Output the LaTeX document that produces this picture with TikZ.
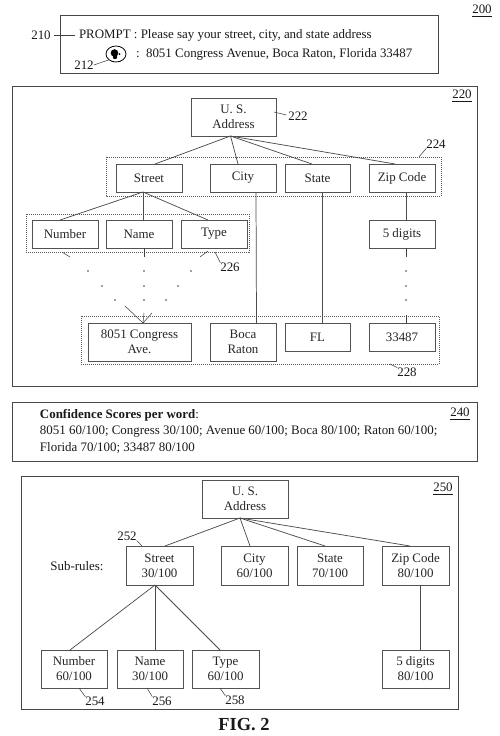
\documentclass[tikz,border=0pt]{standalone}
\usepackage{fontspec}
\setmainfont{Liberation Serif}
\usetikzlibrary{calc,shapes.geometric}
\newcommand{\bx}[6]{\node[tbox,minimum width=#4*0.75pt,minimum height=#5*0.75pt,anchor=north west] (#1) at (#2,#3) {#6};}
\begin{document}
\begin{tikzpicture}[x=0.75pt,y=-0.75pt,
  font=\fontsize{9.7pt}{11.2pt}\selectfont,
  panel/.style={draw=black!72,line width=0.75pt},
  groupbox/.style={draw=black!65,line width=0.55pt,dash pattern=on 0.75pt off 0.75pt},
  tbox/.style={draw=black!68,line width=0.7pt,align=center,inner sep=0pt,outer sep=0pt,text=black!85},
  lbl/.style={inner sep=0pt,outer sep=0pt,text=black!90},
  wire/.style={draw=black!70,line width=0.55pt},
  reftick/.style={draw=black!75,line width=0.4pt},
  dotmark/.style={circle,fill=black!75,inner sep=0pt,minimum size=1.2pt}]
\useasboundingbox (0,0) rectangle (500,736);
\fill[white] (0,0) rectangle (500,736);
% ---- prompt panel
\draw[panel] (60,15) rectangle (438,73);
\node[lbl] (n200) at (482,11) {\underline{200}};
\node[lbl] (n210) at (41,35) {210};
\node[lbl,anchor=west] (prompt) at (79,35) {PROMPT : Please say your street, city, and state address};
\node[lbl,anchor=west] (resp) at (136,54) {:\ \ 8051 Congress Avenue, Boca Raton, Florida 33487};
\node[draw=black,line width=0.6pt,ellipse,minimum width=15pt,minimum height=12pt,inner sep=0pt] (icon) at (116,54) {};
\fill[black] (114.5,53) circle[radius=3.8];
\fill[black] (115,57) circle[radius=2.2];
\fill[black] (119.5,54) circle[radius=1];
\node[lbl] (n212) at (84,65) {212};
\draw[reftick] ($(n210.east)+(3,0)$) -- ($(prompt.west)+(-4,0)$);
\draw[reftick] (n212.east) -- (icon.south west);
% ---- panel 220
\draw[panel] (12,86) rectangle (477,386);
\node[lbl] (n220) at (462,96) {\underline{220}};
\draw[groupbox] (106,157) rectangle (441,196);
\draw[groupbox] (26,214) rectangle (249,252);
\draw[groupbox] (81,316) rectangle (439,364);
\bx{us}{191}{98}{85}{38}{U. S.\\Address}
\bx{street}{116}{164}{66}{28}{Street}
\bx{city}{210}{164}{66}{28}{City}
\bx{state}{285}{164}{65}{28}{State}
\bx{zip}{369}{164}{66}{28}{Zip Code}
\bx{number}{32}{220}{66}{28}{Number}
\bx{name}{106}{220}{66}{28}{Name}
\bx{type}{181}{220}{66}{28}{Type}
\bx{digits}{369}{220}{66}{28}{5 digits}
\bx{congress}{88}{323}{103}{38}{8051 Congress\\Ave.}
\bx{boca}{210}{323}{66}{38}{Boca\\Raton}
\bx{fl}{285}{323}{65}{28}{FL}
\bx{zipv}{369}{323}{66}{28}{33487}
\coordinate (usb) at ($(us.south)+(-3,0)$);
\draw[wire] (usb) -- ($(street.north)+(6,0)$);
\draw[wire] (usb) -- ($(city.north)+(-5,0)$);
\draw[wire] (usb) -- ($(state.north)+(-5.5,0)$);
\draw[wire] (usb) -- ($(zip.north)+(-7,0)$);
\coordinate (stb) at ($(street.south)+(-6,0)$);
\draw[wire] (stb) -- ($(number.north)+(-5,0)$);
\draw[wire] (stb) -- ($(name.north)+(4,0)$);
\draw[wire] (stb) -- ($(type.north)+(-6,0)$);
\draw[wire] ($(city.south)+(13,0)$) -- ($(boca.north)+(13.5,0)$);
\draw[wire] ($(state.south)+(4.5,0)$) -- ($(fl.north)+(4.5,0)$);
\draw[wire] ($(zip.south)+(4,0)$) -- ($(digits.north)+(4,0)$);
% elided paths
\coordinate (s1) at (70,257); \coordinate (s2) at (144,257); \coordinate (s3) at (200,257); \coordinate (s4) at (406,257);
\draw[reftick] ($(number.south)+(-3,4)$) -- (s1);
\draw[reftick] ($(name.south)+(5,0)$) -- (s2);
\draw[reftick] ($(type.south)+(-6,3)$) -- (s3);
\draw[reftick] ($(digits.south)+(4,0)$) -- (s4);
\foreach \px/\py in {88/271,144/271,191/271,102/286,144/286,178/286,115/300,144/300,166/300,406/271,406/286,406/300}
  \node[dotmark] at (\px,\py) {};
\coordinate (e1) at (125,306); \coordinate (e2) at (144,313); \coordinate (e3) at (152,313); \coordinate (e4) at (406,315);
\coordinate (capex) at ($(congress.north)+(3.5,0)$);
\draw[reftick] (e1) -- (capex);
\draw[reftick] (e2) -- (capex);
\draw[reftick] (e3) -- (capex);
\draw[reftick] (e4) -- ($(zipv.north)+(4,0)$);
\node[lbl] (n222) at (298,116) {222};
\node[lbl] (n224) at (436,144) {224};
\node[lbl] (n226) at (230,267) {226};
\node[lbl] (n228) at (407,372) {228};
\coordinate (g224) at (419,157); \coordinate (g226) at (215,252); \coordinate (g228) at (390,364);
\draw[reftick] (274,112) -- ($(n222.west)+(-2,-1)$);
\draw[reftick] (g224) -- (n224.south west);
\draw[reftick] (g226) -- (n226.north west);
\draw[reftick] (g228) -- (n228.north west);
% ---- panel 240
\draw[panel] (12,402) rectangle (477,461);
\node[lbl] (n240) at (460,414) {\underline{240}};
\node[lbl,anchor=west] (conf1) at (40,415) {\textbf{Confidence Scores per word}:};
\node[lbl,anchor=west] (conf2) at (40,432) {8051 60/100; Congress 30/100; Avenue 60/100; Boca 80/100; Raton 60/100;};
\node[lbl,anchor=west] (conf3) at (40,448) {Florida 70/100; 33487 80/100};
% ---- panel 250
\draw[panel] (21,476) rectangle (458,709);
\node[lbl] (n250) at (443,489) {\underline{250}};
\bx{usb2}{202}{480}{86}{38}{U. S.\\Address}
\bx{street2}{126}{546}{67}{39}{Street\\30/100}
\bx{city2}{221}{546}{67}{39}{City\\60/100}
\bx{state2}{297}{546}{66}{39}{State\\70/100}
\bx{zip2}{382}{546}{67}{39}{Zip Code\\80/100}
\bx{number2}{41}{650}{66}{38}{Number\\60/100}
\bx{name2}{117}{650}{66}{38}{Name\\30/100}
\bx{type2}{192}{650}{67}{38}{Type\\60/100}
\bx{digits2}{382}{650}{67}{38}{5 digits\\80/100}
\coordinate (usb3) at ($(usb2.south)+(-5,0)$);
\draw[wire] (usb3) -- ($(street2.north)+(5.5,0)$);
\draw[wire] (usb3) -- ($(city2.north)+(-4.5,0)$);
\draw[wire] (usb3) -- ($(state2.north)+(-5,0)$);
\draw[wire] (usb3) -- ($(zip2.north)+(-5.5,0)$);
\coordinate (stb2) at ($(street2.south)+(-4.5,0)$);
\draw[wire] (stb2) -- ($(number2.north)+(-4,0)$);
\draw[wire] (stb2) -- ($(name2.north)+(5,0)$);
\draw[wire] (stb2) -- ($(type2.north)+(-5.5,0)$);
\draw[wire] ($(zip2.south)+(4.5,0)$) -- ($(digits2.north)+(4.5,0)$);
\node[lbl] (subrules) at (77,566) {Sub-rules:};
\node[lbl] (n252) at (127,536) {252};
\node[lbl] (n254) at (95,701) {254};
\node[lbl] (n256) at (162,701) {256};
\node[lbl] (n258) at (235,700) {258};
\draw[reftick] (n252.south east) -- ($(street2.north west)+(16,0)$);
\draw[reftick] ($(number2.south)+(5,0)$) -- (n254.north west);
\draw[reftick] ($(name2.south)+(-3,0)$) -- (n256.north west);
\draw[reftick] ($(type2.south)+(-5.5,0)$) -- (n258.north west);
\node[lbl,font=\fontsize{13.8pt}{15pt}\selectfont\bfseries] (fig) at (244,725) {FIG. 2};
\end{tikzpicture}
\end{document}
